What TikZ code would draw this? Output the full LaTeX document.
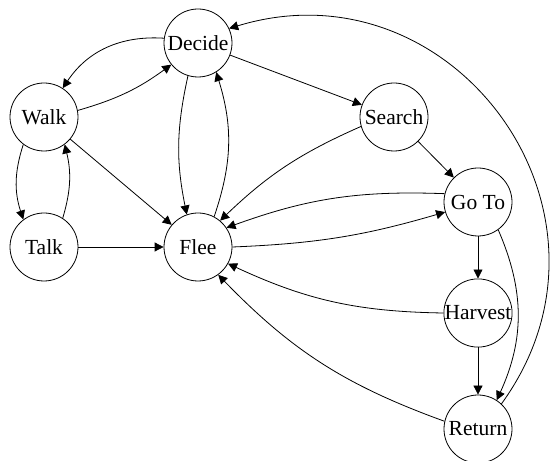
\documentclass[tikz,border=0pt]{standalone}
\usepackage{fontspec}
\setmainfont{Liberation Serif}
\usetikzlibrary{arrows.meta}

\begin{document}
\begin{tikzpicture}[x=1pt, y=1pt,
    state/.style={draw, circle, minimum size=68pt, inner sep=0pt, line width=0.8pt, font=\fontsize{21.5}{24}\selectfont},
    link/.style={-{Triangle[length=9pt, width=9pt]}, line width=0.8pt}]
      \useasboundingbox (0,0) rectangle (550,461);

      \node[state] (decide) at (198,418) {Decide};
      \node[state] (walk) at (44,344) {Walk};
      \node[state] (talk) at (44,214) {Talk};
      \node[state] (flee) at (198,214) {Flee};
      \node[state] (search) at (394,344) {Search};
      \node[state] (goto) at (478,259) {Go To};
      \node[state] (harvest) at (478,148) {Harvest};
      \node[state] (return) at (478,32) {Return};

      \draw[link] (decide.172) to [bend right=30] (walk.57);
      \draw[link] (walk.11) to [bend right=10] (decide.219);
      \draw[link] (decide.253) to [bend right=12] (flee.109);
      \draw[link] (flee.62) to [bend right=18] (decide.302);
      \draw[link] (walk.233) to [bend right=18] (talk.127);
      \draw[link] (talk.57) to [bend right=15] (walk.307);
      \draw[link] (walk) -- (flee);
      \draw[link] (talk) -- (flee);
      \draw[link] (decide) -- (search);
      \draw[link] (search.196) to [bend right=10] (flee.50);
      \draw[link] (search) -- (goto);
      \draw[link] (goto.166) to [bend right=11] (flee.34);
      \draw[link] (flee.0) to [bend right=7] (goto.197);
      \draw[link] (goto) -- (harvest);
      \draw[link] (harvest.180) to [bend left=12] (flee.331);
      \draw[link] (harvest) -- (return);
      \draw[link] (goto.306) to [bend left=24] (return.57);
      \draw[link] (return.167) to [bend left=13] (flee.306);
      \draw[link] (return.47) to [out=54, in=17, looseness=1.3] (decide.25);
\end{tikzpicture}
\end{document}
